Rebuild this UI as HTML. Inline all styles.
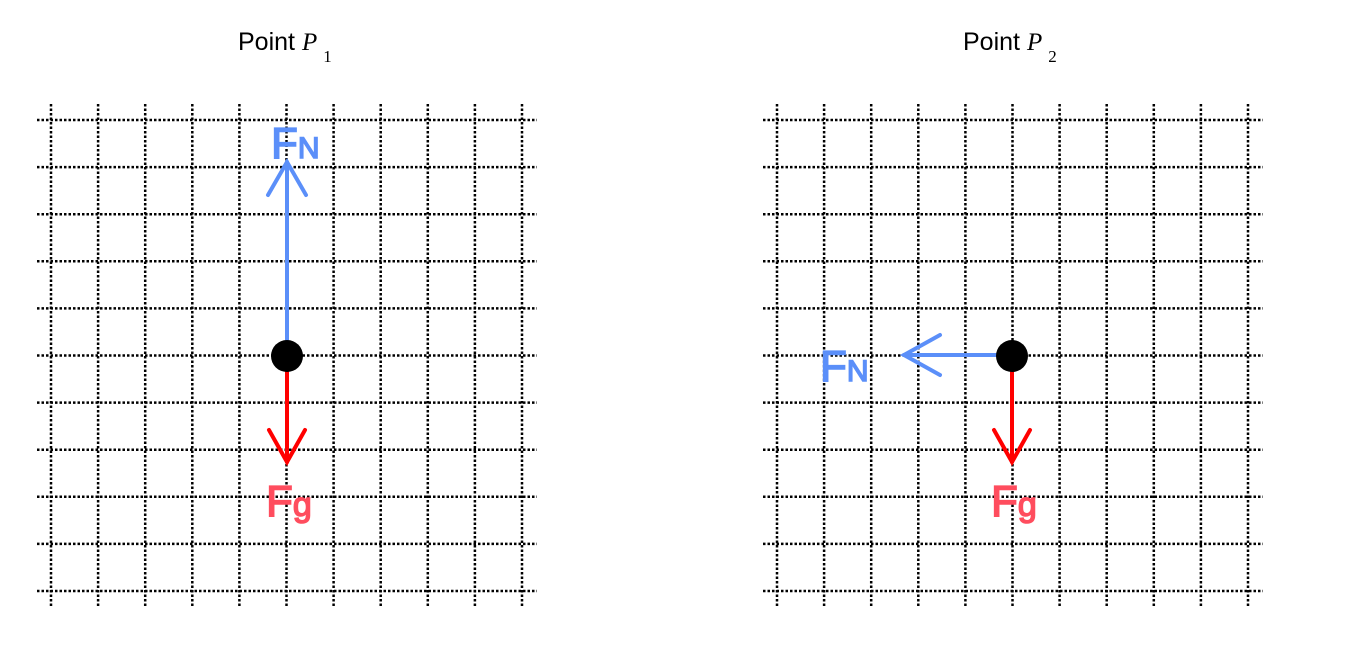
<!DOCTYPE html>
<html><head><meta charset="utf-8"><style>
body{margin:0;background:#fff;}
svg{display:block;}
text{font-family:"Liberation Sans",sans-serif;}
</style></head><body>
<svg width="1347" height="650" viewBox="0 0 1347 650">
<g id="grids"></g>
<text x="238" y="50" font-size="25">Point <tspan font-family="Liberation Serif" font-style="italic">P</tspan><tspan font-family="Liberation Serif" font-size="17" dx="6" dy="12">1</tspan></text>
<text x="963" y="50" font-size="25">Point <tspan font-family="Liberation Serif" font-style="italic">P</tspan><tspan font-family="Liberation Serif" font-size="17" dx="6" dy="12">2</tspan></text>

<g stroke="#5b8ff9" stroke-width="4" fill="none" stroke-linecap="round">
<line x1="287" y1="342" x2="287" y2="162"/>
<polyline points="268,195 287,162 306,195"/>
</g>
<text x="271" y="158" font-size="44" fill="#5b8ff9" stroke="#5b8ff9" stroke-width="1.5">F<tspan font-size="30">N</tspan></text>
<g stroke="#f00" stroke-width="4" fill="none" stroke-linecap="round">
<line x1="287" y1="370" x2="287" y2="462"/>
<polyline points="269,430 287,462 305,430"/>
</g>
<text x="266" y="516" font-size="44" fill="#ff4d5e" stroke="#ff4d5e" stroke-width="1.5">F<tspan font-size="34">g</tspan></text>
<circle cx="287" cy="356" r="16" fill="#000"/>

<g stroke="#5b8ff9" stroke-width="4" fill="none" stroke-linecap="round">
<line x1="1000" y1="355" x2="904" y2="355"/>
<polyline points="940,335 904,355 940,375"/>
</g>
<text x="820" y="381" font-size="44" fill="#5b8ff9" stroke="#5b8ff9" stroke-width="1.5">F<tspan font-size="30">N</tspan></text>
<g stroke="#f00" stroke-width="4" fill="none" stroke-linecap="round">
<line x1="1012" y1="370" x2="1012" y2="462"/>
<polyline points="994,430 1012,462 1030,430"/>
</g>
<text x="991" y="516" font-size="44" fill="#ff4d5e" stroke="#ff4d5e" stroke-width="1.5">F<tspan font-size="34">g</tspan></text>
<circle cx="1012" cy="356" r="16" fill="#000"/>
</svg>
<script>
const panelOrigins=[51,777];
const gridCount=11;
const step=47.1;
const g=document.getElementById('grids');
const NS='http://www.w3.org/2000/svg';
panelOrigins.forEach((x0,p)=>{
  const grp=document.createElementNS(NS,'g');
  
  
  for(let i=0;i<gridCount;i++){
    const x=x0+i*step, y=120+i*step;
    const v=document.createElementNS(NS,'line');
    v.setAttribute('x1',x);v.setAttribute('x2',x);v.setAttribute('y1',104);v.setAttribute('y2',607);
    v.setAttribute('stroke','#000');v.setAttribute('stroke-width','2.5');v.setAttribute('stroke-dasharray','2.5 2');
    
    
    grp.appendChild(v);
    const h=document.createElementNS(NS,'line');
    h.setAttribute('y1',y);h.setAttribute('y2',y);h.setAttribute('x1',x0-14);h.setAttribute('x2',x0+486);
    h.setAttribute('stroke','#000');h.setAttribute('stroke-width','2.5');h.setAttribute('stroke-dasharray','2.5 2');
    
    
    grp.appendChild(h);
  }
  g.appendChild(grp);
});
</script>
</body></html>
